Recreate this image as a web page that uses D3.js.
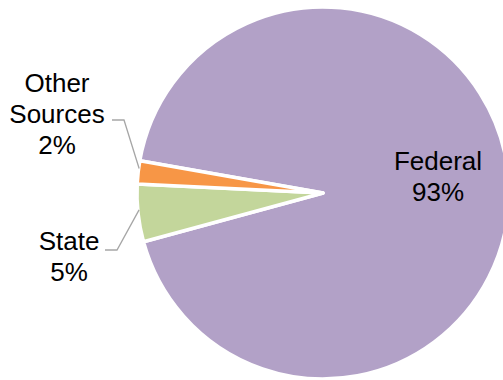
<!DOCTYPE html>
<html>
<head>
<meta charset="utf-8">
<script src="https://cdn.jsdelivr.net/npm/d3@7"></script>
<style>
  html, body { margin: 0; padding: 0; background: #fff; }
  svg { display: block; }
  text { font-family: "Liberation Sans", Arial, sans-serif; fill: #000; }
</style>
</head>
<body>
<svg id="chart" width="503" height="380"></svg>
<script>
// Funding sources, percent of total
const categories = ["Federal", "State", "Other Sources"];
const values = [93, 5, 2];
const colors = ["#B2A1C7", "#C3D69B", "#F79646"];

const W = 503, H = 380;
const cx = 323, cy = 193, R = 186;

const svg = d3.select("#chart");
const g = svg.append("g").attr("transform", `translate(${cx},${cy})`);

const start = -80 * Math.PI / 180;
const pie = d3.pie().sort(null).value(d => d.value)
  .startAngle(start).endAngle(start + 2 * Math.PI);
const arcs = pie(categories.map((c, i) => ({ name: c, value: values[i], color: colors[i] })));

const arc = d3.arc().innerRadius(0).outerRadius(R);

g.selectAll("path.slice")
  .data(arcs)
  .join("path")
  .attr("class", "slice")
  .attr("d", arc)
  .attr("fill", d => d.data.color)
  .attr("stroke", "#fff")
  .attr("stroke-width", 3.5)
  .attr("stroke-linejoin", "round");

// point on the rim at a slice's middle angle
function rimPoint(d, r) {
  const a = (d.startAngle + d.endAngle) / 2;
  return [r * Math.sin(a), -r * Math.cos(a)];
}

const fs = 26;
const lh = 31;

function label(lines, x, yBase) {
  const t = svg.append("text")
    .attr("text-anchor", "middle")
    .attr("font-size", fs);
  lines.forEach((ln, i) => {
    t.append("tspan").attr("x", x).attr("y", yBase + i * lh).text(ln);
  });
}

// Federal label sits inside its slice
label([categories[0], values[0] + "%"], 438, 170);

// Outside labels with leader lines
const leaderColor = "#A6A6A6";
const otherRim = rimPoint(arcs[2], R - 2);
svg.append("polyline")
  .attr("points", [[112, 120], [124, 120], [cx + otherRim[0] - 1, cy + otherRim[1] - 4]].map(p => p.join(",")).join(" "))
  .attr("fill", "none").attr("stroke", leaderColor).attr("stroke-width", 1.3);
label(["Other", "Sources", values[2] + "%"], 57, 92);

const stateRim = rimPoint(arcs[1], R - 2);
svg.append("polyline")
  .attr("points", [[105, 250], [117, 250], [cx + stateRim[0] - 1, cy + stateRim[1] - 3]].map(p => p.join(",")).join(" "))
  .attr("fill", "none").attr("stroke", leaderColor).attr("stroke-width", 1.3);
label([categories[1], values[1] + "%"], 69, 250);
</script>
</body>
</html>
